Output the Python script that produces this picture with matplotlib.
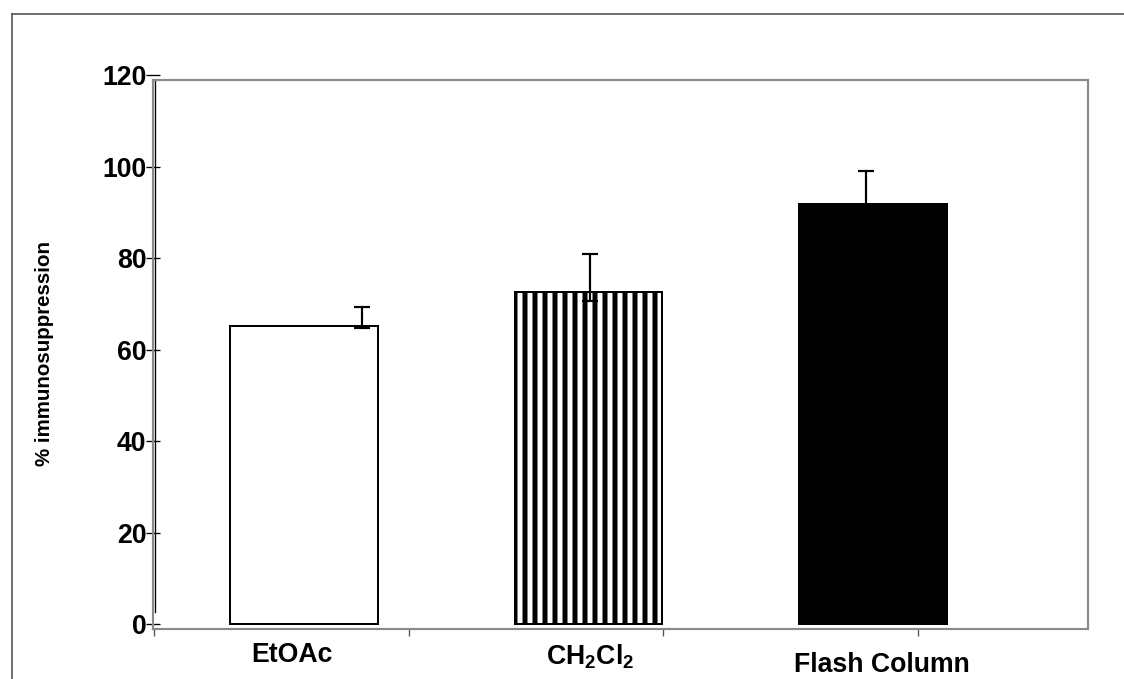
import numpy as np
import matplotlib
matplotlib.use("Agg")
import matplotlib.pyplot as plt
from matplotlib.lines import Line2D

plt.rcParams["font.family"] = ["Liberation Sans", "DejaVu Sans"]
plt.rcParams["font.weight"] = "bold"
plt.rcParams["mathtext.fontset"] = "custom"
plt.rcParams["mathtext.bf"] = "Liberation Sans:bold"
plt.rcParams["mathtext.rm"] = "Liberation Sans:bold"
plt.rcParams["hatch.linewidth"] = 3.0

# data
categories = ["EtOAc", r"$\mathbf{CH_2Cl_2}$", "Flash Column"]
values = [65.1, 72.5, 91.8]
err_upper = [4.3, 8.3, 7.2]
err_lower = [0.3, 2.0, 2.0]
err_shift = [0.204, 0.007, -0.025]     # error bars sit off-centre in the original
label_shift = [-0.042, 0.007, 0.032]
label_drop = [8, 8, 14]
yticks = [0, 20, 40, 60, 80, 100, 120]
fills = ["white", "white", "black"]
hatches = [None, "||", None]

dpi = 120
fig = plt.figure(figsize=(1124 / dpi, 679 / dpi), dpi=dpi)
ax = fig.add_axes([153 / 1124, 50 / 679, 935 / 1124, (629 - 75) / 679])

x = np.arange(len(categories))
for xi, v, fc, h in zip(x, values, fills, hatches):
    ax.bar(xi, v, width=0.52, color=fc, edgecolor="black", linewidth=1.2,
           hatch=h, zorder=2)

ax.errorbar(x + np.array(err_shift), values, yerr=[err_lower, err_upper],
            fmt="none", ecolor="black", elinewidth=1.3, capsize=5,
            capthick=1.3, zorder=3)

ymin, ytop = -1.09, 118.9
ax.set_xlim(-0.5307, 2.7557)
ax.set_ylim(ymin, 120)

frame = "#8a8a8a"
for side in ["left", "right", "top", "bottom"]:
    ax.spines[side].set_color(frame)
    ax.spines[side].set_linewidth(1.3)
ax.spines["top"].set_position(("data", ytop))
ax.spines["left"].set_bounds(ymin, ytop)
ax.spines["right"].set_bounds(ymin, ytop)
ax.axvline(-0.522, ymin=0.03, ymax=(ytop - ymin) / (120 - ymin),
           color="black", linewidth=0.8, zorder=1)

ax.set_yticks(yticks)
ax.set_yticklabels([str(t) for t in yticks], fontsize=16, fontweight="bold")
ax.tick_params(axis="y", direction="inout", length=8, width=0.8,
               color="black", pad=0)

ax.set_xticks(np.linspace(-0.527, 2.157, 4))
ax.set_xticklabels([])
ax.tick_params(axis="x", direction="out", length=4, width=0.8, color="#555555")

for xi, name, s, d in zip(x, categories, label_shift, label_drop):
    ax.annotate(name, xy=(xi + s, 0), xycoords=("data", "axes fraction"),
                xytext=(0, -d), textcoords="offset points", ha="center",
                va="top", fontsize=16, fontweight="bold")

fig.text(45 / 1124, 1 - 353 / 679, "% immunosuppression", rotation=90,
         ha="center", va="center", fontsize=12.3, fontweight="bold")

fig.add_artist(Line2D([12 / 1124, 1], [1 - 14 / 679] * 2, color="#555555",
                      linewidth=1.0, transform=fig.transFigure))
fig.add_artist(Line2D([12 / 1124] * 2, [0, 1 - 14 / 679], color="#555555",
                      linewidth=1.0, transform=fig.transFigure))

fig.savefig("out.png", dpi=dpi)
